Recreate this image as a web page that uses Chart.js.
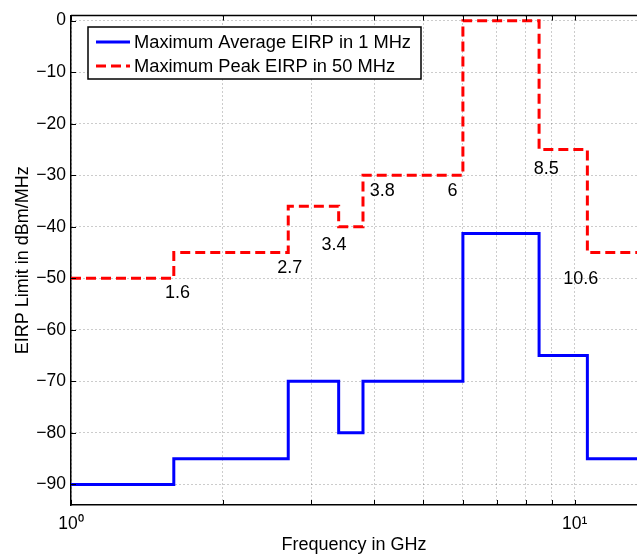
<!DOCTYPE html>
<html>
<head>
<meta charset="utf-8">
<script src="https://cdn.jsdelivr.net/npm/chart.js@4.4.1/dist/chart.umd.min.js"></script>
<style>
  html, body { margin: 0; padding: 0; background: #fff; }
  #wrap { position: relative; width: 637px; height: 556px; }
</style>
</head>
<body>
<div id="wrap"><canvas id="c"></canvas></div>
<script>
// ---- data ----
const bandEdges = [1, 1.6, 2.7, 3.4, 3.8, 6, 8.5, 10.6, 14];           // GHz (last edge runs off the axis)
const avgEirp   = [-90, -85, -70, -80, -70, -41.3, -65, -85, -85];    // dBm/MHz, value from each edge on
const peakEirp  = [-50, -45, -36, -40, -30, 0, -25, -45, -45];         // dBm/MHz, value from each edge on
const seriesNames = ['Maximum Average EIRP in 1 MHz', 'Maximum Peak EIRP in 50 MHz'];

const yTickValues = [-90, -80, -70, -60, -50, -40, -30, -20, -10, 0];
const xGridValues = [1, 2, 3, 4, 5, 6, 7, 8, 9, 10];
const xTickLabels = { 1: '10\u2070', 10: '10\u00B9' };

const noteText = ['1.6', '2.7', '3.4', '3.8', '6', '8.5', '10.6'];
const noteX    = [1.628, 2.72, 3.33, 4.15, 5.72, 8.78, 10.28];
const noteY    = [-52.8, -48.0, -43.5, -33.0, -33.0, -28.7, -50.1];

const FONT = '"Liberation Sans", Arial, Helvetica, sans-serif';

const toPoints = (xs, ys) => xs.map((x, i) => ({ x: x, y: ys[i] }));

const extras = {
  id: 'extras',
  afterDraw(chart) {
    const ctx = chart.ctx;
    const a = chart.chartArea;
    const xs = chart.scales.x, ys = chart.scales.y;
    ctx.save();
    // top border
    ctx.strokeStyle = '#000';
    ctx.lineWidth = 1.5;
    ctx.beginPath();
    ctx.moveTo(a.left, a.top);
    ctx.lineTo(a.right, a.top);
    ctx.stroke();
    // inward tick marks
    ctx.lineWidth = 1;
    ctx.beginPath();
    ys.ticks.forEach(t => {
      const p = Math.round(ys.getPixelForValue(t.value)) + 0.5;
      ctx.moveTo(a.left, p); ctx.lineTo(a.left + 5, p);
    });
    xs.ticks.forEach(t => {
      const p = Math.round(xs.getPixelForValue(t.value)) + 0.5;
      ctx.moveTo(p, a.bottom); ctx.lineTo(p, a.bottom - 5);
      ctx.moveTo(p, a.top); ctx.lineTo(p, a.top + 5);
    });
    ctx.stroke();

    // annotations
    ctx.fillStyle = '#000';
    ctx.font = '18px ' + FONT;
    ctx.textAlign = 'center';
    ctx.textBaseline = 'middle';
    noteText.forEach((s, i) => {
      ctx.fillText(s, xs.getPixelForValue(noteX[i]), ys.getPixelForValue(noteY[i]));
    });

    // legend box
    const lx = 88, ly = 27, lw = 333, lh = 52;
    ctx.fillStyle = '#fff';
    ctx.fillRect(lx, ly, lw, lh);
    ctx.strokeStyle = '#000';
    ctx.lineWidth = 1.5;
    ctx.strokeRect(lx, ly, lw, lh);
    ctx.font = '18.3px ' + FONT;
    chart.data.datasets.forEach((ds, i) => {
      const cy = ly + 15 + i * 24;
      ctx.strokeStyle = ds.borderColor;
      ctx.lineWidth = ds.borderWidth;
      ctx.setLineDash(ds.borderDash || []);
      ctx.beginPath();
      ctx.moveTo(lx + 8, cy);
      ctx.lineTo(lx + 42, cy);
      ctx.stroke();
      ctx.setLineDash([]);
      ctx.fillStyle = '#000';
      ctx.textAlign = 'left';
      ctx.fillText(ds.label, lx + 46, cy + 1);
    });
    ctx.restore();
  }
};

new Chart(document.getElementById('c'), {
  type: 'line',
  data: {
    datasets: [
      {
        label: seriesNames[0],
        data: toPoints(bandEdges, avgEirp),
        borderColor: '#0000ff',
        borderWidth: 3,
        stepped: 'before',
        pointRadius: 0,
        fill: false
      },
      {
        label: seriesNames[1],
        data: toPoints(bandEdges, peakEirp),
        borderColor: '#ff0000',
        borderWidth: 3,
        borderDash: [10, 5],
        stepped: 'before',
        pointRadius: 0,
        fill: false
      }
    ]
  },
  options: {
    responsive: true,
    maintainAspectRatio: false,
    animation: false,
    layout: { padding: { top: 13, right: 0, left: 0, bottom: 0 } },
    plugins: {
      legend: { display: false },
      tooltip: { enabled: false }
    },
    scales: {
      x: {
        type: 'logarithmic',
        min: 1,
        max: 13.3,
        afterBuildTicks: s => { s.ticks = xGridValues.map(v => ({ value: v })); },
        afterFit: s => { s.height = 51; },
        grid: { color: 'rgba(0,0,0,0.4)', lineWidth: 1, drawTicks: false },
        border: { display: true, color: '#000', width: 1.5, dash: [1, 3] },
        ticks: {
          autoSkip: false,
          maxRotation: 0,
          padding: 9,
          color: '#000',
          font: { family: FONT, size: 17.5 },
          callback: v => xTickLabels[v] || ''
        },
        title: {
          display: true,
          text: 'Frequency in GHz',
          color: '#000',
          font: { family: FONT, size: 18 },
          padding: { top: 0, bottom: 0 }
        }
      },
      y: {
        type: 'linear',
        min: -94,
        max: 1,
        afterBuildTicks: s => { s.ticks = yTickValues.map(v => ({ value: v })); },
        afterFit: s => { s.width = 71; },
        grid: { color: 'rgba(0,0,0,0.4)', lineWidth: 1, drawTicks: false },
        border: { display: true, color: '#000', width: 1.5, dash: [1, 3] },
        ticks: {
          padding: 5,
          color: '#000',
          font: { family: FONT, size: 17.5 },
          callback: v => (v < 0 ? '\u2212' + Math.abs(v) : String(v))
        },
        title: {
          display: true,
          text: 'EIRP Limit in dBm/MHz',
          color: '#000',
          font: { family: FONT, size: 18 },
          padding: { top: 12, bottom: 0 }
        }
      }
    }
  },
  plugins: [extras]
});
</script>
</body>
</html>
